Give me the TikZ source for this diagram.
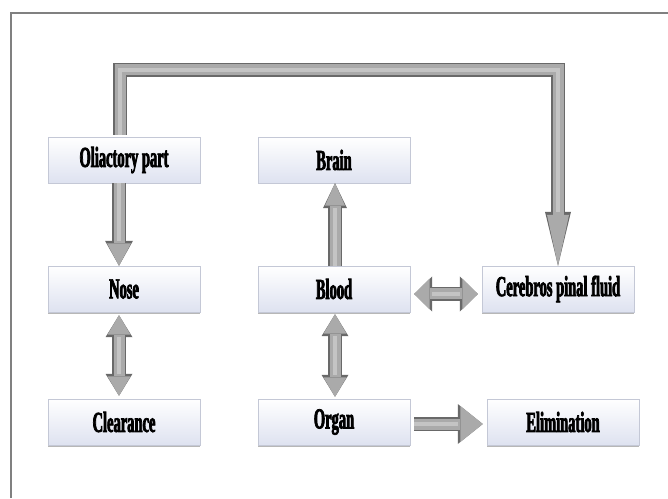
\documentclass[tikz,border=0pt]{standalone}
\usepackage{fontspec}
\usepackage{tikz}
\usetikzlibrary{arrows.meta,shadows}
\newfontfamily\boxfont[FakeStretch=0.5,FakeBold=2.5]{Liberation Serif}
\definecolor{framegray}{RGB}{128,128,128}
\definecolor{boxbottom}{RGB}{222,226,240}
\definecolor{boxline}{RGB}{196,200,214}
\definecolor{arrowdark}{RGB}{105,105,105}
\definecolor{arrowmid}{RGB}{170,170,170}
\definecolor{arrowlight}{RGB}{196,196,196}

\begin{document}
\begin{tikzpicture}[x=1pt,y=1pt,
 box/.style={draw=boxline,top color=white,bottom color=boxbottom,minimum width=152pt,minimum height=46pt,inner sep=0pt,
   font=\boxfont\bfseries\fontsize{29}{31}\selectfont,
   drop shadow={shadow xshift=0pt,shadow yshift=-1.5pt,fill=gray!80,opacity=0.7}},
 frame/.style={draw=framegray,line width=1.8pt},
 sarr/.style n args={4}{line width=11pt,draw=arrowmid,line join=miter,
   -{Triangle[length=#3,width=#4,line width=0pt]},
   preaction={draw=arrowdark,line width=14pt,-{Triangle[length=#1,width=#2,line width=0pt]}},
   postaction={draw=arrowlight,line width=4pt,-,shorten >=#1}},
 darr/.style n args={4}{line width=11pt,draw=arrowmid,
   {Triangle[length=#3,width=#4,line width=0pt]}-{Triangle[length=#3,width=#4,line width=0pt]},
   preaction={draw=arrowdark,line width=14pt,{Triangle[length=#1,width=#2,line width=0pt]}-{Triangle[length=#1,width=#2,line width=0pt]}},
   postaction={draw=arrowlight,line width=4pt,-,shorten >=#1,shorten <=#1}}
]
\useasboundingbox (0,0) rectangle (668,498);
\draw[frame] (11,0) -- (11,485) -- (668,485);

\node[box] (olf) at (124,338) {Oliactory part};
\node[box] (brain) at (334,338) {Brain};
\node[box] (nose) at (124,209) {Nose};
\node[box] (blood) at (334,209) {Blood};
\node[box] (csf) at (558,209) {Cerebros pinal fluid};
\node[box] (clear) at (124,76) {Clearance};
\node[box] (organ) at (334,76) {Organ};
\node[box] (elim) at (563,76) {Elimination};
\coordinate (bend) at (0,428);

\draw[sarr={54pt}{26pt}{51pt}{22pt}] ([xshift=-4pt,yshift=2pt]olf.north) -- ([xshift=-4pt]olf.north |- bend) -| (csf.north);
\draw[sarr={25pt}{28pt}{22.5pt}{24pt}] ([xshift=-5pt]olf.south) -- ([xshift=-5pt]nose.north);
\draw[darr={22pt}{27pt}{19.5pt}{23pt}] ([xshift=-5pt,yshift=-3pt]nose.south) -- ([xshift=-5pt,yshift=3pt]clear.north);
\draw[sarr={25pt}{24pt}{22.5pt}{20pt}] ([xshift=1pt]blood.north) -- ([xshift=1pt]brain.south);
\draw[darr={22pt}{27pt}{19.5pt}{23pt}] ([xshift=1pt,yshift=-2pt]blood.south) -- ([xshift=1pt,yshift=2pt]organ.north);
\draw[darr={18pt}{35pt}{15.5pt}{31pt}] ([xshift=4pt,yshift=-5pt]blood.east) -- ([xshift=-4pt,yshift=-5pt]csf.west);
\draw[sarr={25pt}{40pt}{22.5pt}{36pt}] ([xshift=4pt,yshift=-2pt]organ.east) -- ([xshift=-4pt,yshift=-2pt]elim.west);
\end{tikzpicture}
\end{document}
